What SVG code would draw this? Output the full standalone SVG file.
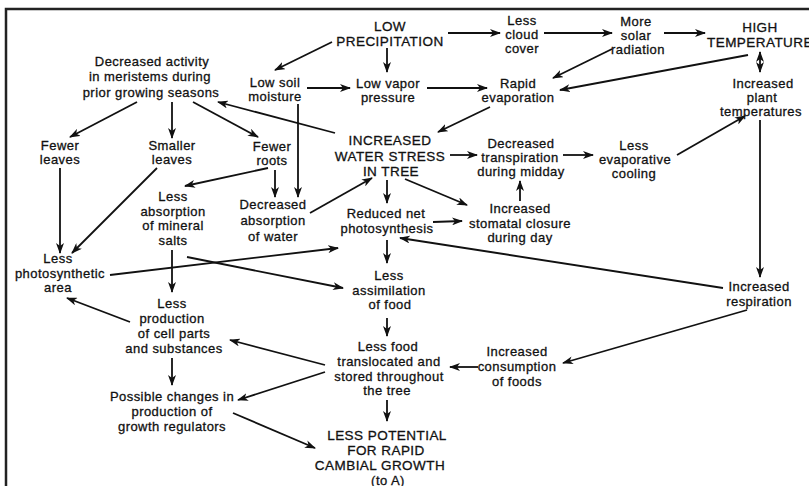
<svg xmlns="http://www.w3.org/2000/svg" width="809" height="486" viewBox="0 0 809 486">
<defs>
<marker id="ah" markerUnits="userSpaceOnUse" markerWidth="11" markerHeight="8" refX="10" refY="4" orient="auto">
<path d="M0,0 L11,4 L0,8 L3,4 z" fill="#111"/>
</marker>
<marker id="ahs" markerUnits="userSpaceOnUse" markerWidth="11" markerHeight="8" refX="1" refY="4" orient="auto">
<path d="M11,0 L0,4 L11,8 L8,4 z" fill="#111"/>
</marker>
</defs>
<style>
text{font-family:"Liberation Sans",Arial,sans-serif;font-size:13px;letter-spacing:0.45px;fill:#111;stroke:#111;stroke-width:0.3;text-anchor:middle}
.cap{font-size:13.5px;letter-spacing:0.45px}
.c line,.c path{stroke:#111;stroke-width:1.8;fill:none}
.a{marker-end:url(#ah)}
</style>
<rect width="809" height="486" fill="#fff"/>
<path d="M6,486 L6,9 L809,9" fill="none" stroke="#222" stroke-width="2.5"/>

<g class="c" id="connectors">
<line class="a" x1="448" y1="33" x2="500" y2="33"/>
<line class="a" x1="544" y1="33" x2="612" y2="33"/>
<line class="a" x1="664" y1="33" x2="705" y2="33"/>
<line class="a" x1="612" y1="49" x2="553" y2="78"/>
<line class="a" x1="748" y1="55" x2="560" y2="90"/>
<line class="a" x1="760" y1="52" x2="760" y2="72" marker-start="url(#ahs)"/>
<line class="a" x1="332" y1="42" x2="275" y2="70"/>
<line class="a" x1="387" y1="48" x2="387" y2="72"/>
<line class="a" x1="307" y1="88" x2="350" y2="88"/>
<line class="a" x1="427" y1="88" x2="487" y2="88"/>
<line class="a" x1="490" y1="107" x2="438" y2="132"/>
<line class="a" x1="335" y1="133" x2="218" y2="102"/>
<line class="a" x1="137" y1="102" x2="70" y2="137"/>
<line class="a" x1="172" y1="102" x2="172" y2="138"/>
<line class="a" x1="193" y1="102" x2="258" y2="137"/>
<line class="a" x1="298" y1="104" x2="298" y2="197"/>
<line class="a" x1="275" y1="170" x2="275" y2="197"/>
<line class="a" x1="268" y1="168" x2="185" y2="186"/>
<line class="a" x1="60" y1="168" x2="60" y2="253"/>
<line class="a" x1="157" y1="168" x2="72" y2="253"/>
<line class="a" x1="172" y1="250" x2="172" y2="292"/>
<line class="a" x1="187" y1="257" x2="343" y2="288"/>
<line class="a" x1="110" y1="275" x2="338" y2="248"/>
<line class="a" x1="310" y1="213" x2="372" y2="178"/>
<line class="a" x1="387" y1="180" x2="387" y2="203"/>
<line class="a" x1="405" y1="179" x2="467" y2="205"/>
<line class="a" x1="450" y1="155" x2="477" y2="155"/>
<line class="a" x1="563" y1="155" x2="593" y2="155"/>
<line class="a" x1="677" y1="155" x2="745" y2="116"/>
<line class="a" x1="520" y1="201" x2="520" y2="181"/>
<line class="a" x1="433" y1="222" x2="462" y2="221"/>
<line class="a" x1="760" y1="120" x2="760" y2="277"/>
<line class="a" x1="723" y1="288" x2="400" y2="238"/>
<line class="a" x1="747" y1="310" x2="563" y2="363"/>
<line class="a" x1="478" y1="367" x2="450" y2="367"/>
<line class="a" x1="387" y1="240" x2="387" y2="263"/>
<line class="a" x1="387" y1="318" x2="387" y2="336"/>
<line class="a" x1="325" y1="365" x2="230" y2="340"/>
<line class="a" x1="325" y1="372" x2="238" y2="400"/>
<line class="a" x1="130" y1="322" x2="67" y2="298"/>
<line class="a" x1="172" y1="358" x2="172" y2="385"/>
<line class="a" x1="387" y1="400" x2="387" y2="421"/>
<line class="a" x1="233" y1="413" x2="315" y2="448"/>
</g>

<g id="low-precipitation"><text class="cap" x="390" y="30.5">LOW</text><text class="cap" x="390" y="45.5">PRECIPITATION</text></g>
<g id="less-cloud-cover"><text x="522" y="25">Less</text><text x="522" y="39">cloud</text><text x="522" y="53">cover</text></g>
<g id="more-solar-radiation"><text x="636" y="26">More</text><text x="636" y="40">solar</text><text x="638" y="54">radiation</text></g>
<g id="high-temperature"><text class="cap" x="760" y="32">HIGH</text><text class="cap" x="760" y="47">TEMPERATURE</text></g>
<g id="increased-plant-temperatures"><text x="763" y="88">Increased</text><text x="762" y="102">plant</text><text x="761" y="116">temperatures</text></g>
<g id="low-soil-moisture"><text x="275" y="87">Low soil</text><text x="275" y="101">moisture</text></g>
<g id="low-vapor-pressure"><text x="388" y="88">Low vapor</text><text x="388" y="102">pressure</text></g>
<g id="rapid-evaporation"><text x="518" y="88">Rapid</text><text x="518" y="102">evaporation</text></g>
<g id="decreased-activity"><text x="152" y="66">Decreased activity</text><text x="150" y="81">in meristems during</text><text x="151" y="97">prior growing seasons</text></g>
<g id="fewer-leaves"><text x="60" y="150">Fewer</text><text x="60" y="164">leaves</text></g>
<g id="smaller-leaves"><text x="172" y="150">Smaller</text><text x="172" y="164">leaves</text></g>
<g id="fewer-roots"><text x="272" y="151">Fewer</text><text x="272" y="165">roots</text></g>
<g id="increased-water-stress"><text class="cap" x="390" y="145">INCREASED</text><text class="cap" x="390" y="160.5">WATER STRESS</text><text class="cap" x="391" y="176">IN TREE</text></g>
<g id="decreased-transpiration"><text x="521" y="148">Decreased</text><text x="520" y="162">transpiration</text><text x="521" y="176">during midday</text></g>
<g id="less-evaporative-cooling"><text x="634" y="150">Less</text><text x="635" y="164">evaporative</text><text x="634" y="178">cooling</text></g>
<g id="less-absorption-mineral-salts"><text x="173" y="201">Less</text><text x="173" y="215.5">absorption</text><text x="173" y="230">of mineral</text><text x="173" y="245">salts</text></g>
<g id="decreased-absorption-water"><text x="273" y="209">Decreased</text><text x="273" y="225">absorption</text><text x="273" y="241">of water</text></g>
<g id="reduced-net-photosynthesis"><text x="386" y="218">Reduced net</text><text x="387" y="233">photosynthesis</text></g>
<g id="increased-stomatal-closure"><text x="520" y="213">Increased</text><text x="520" y="227.5">stomatal closure</text><text x="520" y="242">during day</text></g>
<g id="less-photosynthetic-area"><text x="58" y="263">Less</text><text x="60" y="277.5">photosynthetic</text><text x="58" y="292">area</text></g>
<g id="less-assimilation"><text x="389" y="280">Less</text><text x="389" y="294.5">assimilation</text><text x="390" y="309">of food</text></g>
<g id="increased-respiration"><text x="759" y="291">Increased</text><text x="759" y="305.5">respiration</text></g>
<g id="less-production"><text x="172" y="308">Less</text><text x="172" y="323">production</text><text x="174" y="338">of cell parts</text><text x="174" y="353">and substances</text></g>
<g id="less-food-translocated"><text x="388" y="351">Less food</text><text x="389" y="366">translocated and</text><text x="389" y="380.5">stored throughout</text><text x="387" y="395">the tree</text></g>
<g id="increased-consumption"><text x="517" y="356">Increased</text><text x="517" y="371">consumption</text><text x="517" y="386">of foods</text></g>
<g id="possible-changes"><text x="172" y="401">Possible changes in</text><text x="172" y="416">production of</text><text x="172" y="431">growth regulators</text></g>
<g id="less-potential"><text class="cap" x="387" y="440">LESS POTENTIAL</text><text class="cap" x="386" y="455">FOR RAPID</text><text class="cap" x="380" y="470">CAMBIAL GROWTH</text><text x="388" y="485">(to A)</text></g>
</svg>
